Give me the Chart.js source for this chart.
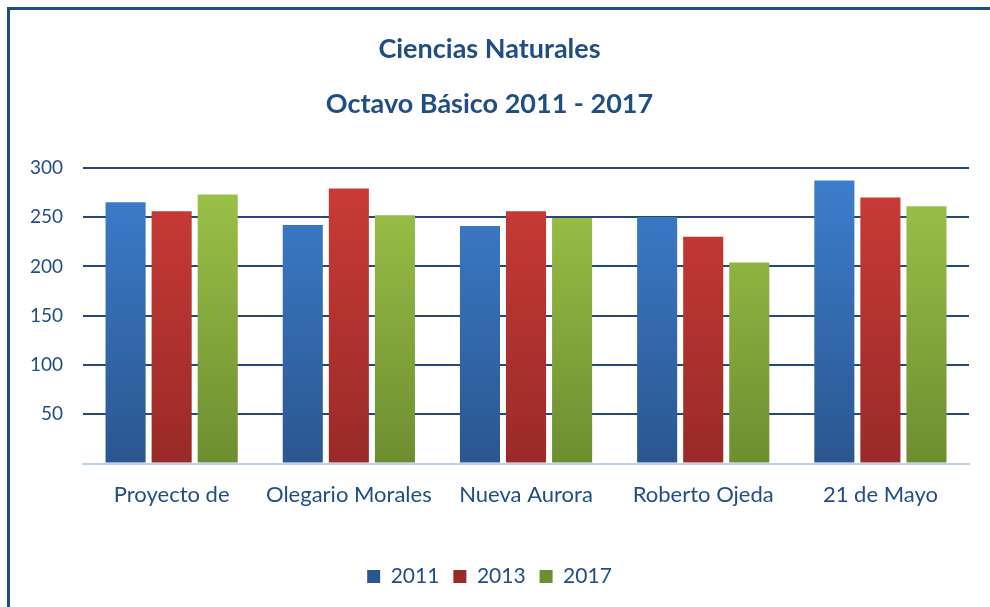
<!DOCTYPE html>
<html>
<head>
<meta charset="utf-8">
<script src="https://cdn.jsdelivr.net/npm/chart.js@4"></script>
<style>
  html, body { margin: 0; padding: 0; background: #fff; }
  #wrap { width: 990px; height: 607px; }
</style>
</head>
<body>
<div id="wrap"><canvas id="chart"></canvas></div>
<script>
"use strict";

// Data
const schools = ['Proyecto de', 'Olegario Morales', 'Nueva Aurora', 'Roberto Ojeda', '21 de Mayo'];
const years = ['2011', '2013', '2017'];
const scores2011 = [265, 242, 241, 250, 287];
const scores2013 = [256, 279, 256, 230, 270];
const scores2017 = [273, 252, 249, 204, 261];

const textBlue = '#1F4E84';
const font = 'Lato, "Liberation Sans", sans-serif';

// Vertical gradient for each bar, light on top, darker at the bottom
function barGradient(top, bottom) {
    return function (ctx) {
        const area = ctx.chart.chartArea;
        if (!area) return top;
        const g = ctx.chart.ctx.createLinearGradient(0, area.top, 0, area.bottom);
        g.addColorStop(0, top);
        g.addColorStop(1, bottom);
        return g;
    };
}

// Frame lines on top and left, like the original picture
const framePlugin = {
    id: 'frame',
    beforeDraw(chart) {
        const c = chart.ctx;
        c.save();
        c.fillStyle = '#fff';
        c.fillRect(0, 0, chart.width, chart.height);
        c.strokeStyle = '#1F4E84';
        c.lineWidth = 3;
        c.beginPath();
        c.moveTo(8.5, chart.height);
        c.lineTo(8.5, 8.5);
        c.lineTo(chart.width, 8.5);
        c.stroke();
        c.restore();
    }
};

const data = {
    labels: schools,
    datasets: [
        { label: years[0], data: scores2011, backgroundColor: barGradient('#3D7FCF', '#2A5690') },
        { label: years[1], data: scores2013, backgroundColor: barGradient('#CD3C37', '#992A27') },
        { label: years[2], data: scores2017, backgroundColor: barGradient('#9EC54A', '#6D8E30') }
    ]
};

const config = {
    type: 'bar',
    data: data,
    plugins: [framePlugin],
    options: {
        responsive: true,
        maintainAspectRatio: false,
        animation: false,
        datasets: {
            bar: {
                categoryPercentage: 0.78,
                barPercentage: 0.87
            }
        },
        layout: {
            padding: { left: 10, right: 21, top: 0, bottom: 10 }
        },
        plugins: {
            title: {
                display: true,
                text: 'Ciencias Naturales',
                color: textBlue,
                font: { family: font, size: 27, weight: 'bold' },
                padding: { top: 33, bottom: 23 }
            },
            subtitle: {
                display: true,
                text: 'Octavo Básico 2011 - 2017',
                color: textBlue,
                font: { family: font, size: 27, weight: 'bold' },
                padding: { top: 0, bottom: 47 }
            },
            legend: {
                position: 'bottom',
                labels: {
                    color: textBlue,
                    font: { family: font, size: 21 },
                    boxWidth: 13,
                    boxHeight: 13,
                    padding: 14
                }
            },
            tooltip: { enabled: false }
        },
        scales: {
            x: {
                grid: { display: false },
                border: { display: true, color: '#BCD2EC', width: 2 },
                ticks: {
                    color: textBlue,
                    font: { family: font, size: 22 },
                    padding: 10,
                    maxRotation: 0,
                    autoSkip: false
                },
                // leave the empty band between the labels and the legend
                afterFit: (scale) => { scale.height += 34; }
            },
            y: {
                min: 0,
                max: 300,
                border: { display: false },
                grid: {
                    drawTicks: false,
                    lineWidth: 2,
                    color: (ctx) => ctx.tick && ctx.tick.value === 0 ? 'rgba(0,0,0,0)' : '#24487A'
                },
                ticks: {
                    stepSize: 50,
                    padding: 20,
                    color: textBlue,
                    font: { family: font, size: 19 },
                    callback: (v) => v === 0 ? '' : v
                }
            }
        }
    }
};

const chart = new Chart(document.getElementById('chart').getContext('2d'), config);
</script>
</body>
</html>
